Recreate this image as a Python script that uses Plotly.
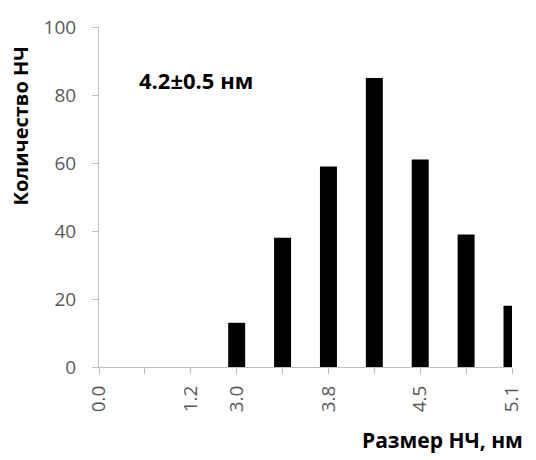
import plotly.graph_objects as go

positions = [0, 1, 2, 3, 4, 5, 6, 7, 8, 9]
tick_labels = ["0.0", "", "1.2", "3.0", "", "3.8", "", "4.5", "", "5.1"]
counts = [0, 0, 0, 13, 38, 59, 85, 61, 39, 18]

y_ticks = [0, 20, 40, 60, 80, 100]

FONT = "Open Sans"
GRAY = "#595959"
AXIS = "#bfbfbf"
CLEAR = "rgba(0,0,0,0)"

fig = go.Figure()
fig.add_trace(go.Bar(
    x=positions, y=counts, width=0.37,
    marker=dict(color="black", line=dict(width=0)),
    hoverinfo="x+y",
))
# empty helper trace so the tick-mark overlay axes are drawn
fig.add_trace(go.Scatter(x=[], y=[], xaxis="x2", yaxis="y2", hoverinfo="skip"))

fig.update_layout(
    width=536, height=460,
    margin=dict(l=99, r=19, t=27, b=93),
    paper_bgcolor="white", plot_bgcolor="white",
    showlegend=False,
    font=dict(family=FONT, color=GRAY, size=19),
    xaxis=dict(
        range=[0, 9], tickmode="array", tickvals=positions, ticktext=tick_labels,
        tickangle=-90, ticks="outside", ticklen=10, tickcolor=CLEAR, tickwidth=1,
        showline=True, linecolor=AXIS, linewidth=1, showgrid=False, zeroline=False,
        tickfont=dict(family=FONT, size=19, color=GRAY),
    ),
    yaxis=dict(
        range=[0, 100], tickmode="array", tickvals=y_ticks,
        ticks="outside", ticklen=18, tickcolor=CLEAR, tickwidth=1,
        showline=True, linecolor=AXIS, linewidth=1, showgrid=False, zeroline=False,
        tickfont=dict(family=FONT, size=19, color=GRAY),
    ),
    xaxis2=dict(
        overlaying="x", anchor="y2", side="bottom", range=[0, 9],
        tickmode="array", tickvals=positions, showticklabels=False,
        ticks="outside", ticklen=6, tickcolor=AXIS, tickwidth=1,
        showline=False, showgrid=False, zeroline=False,
    ),
    yaxis2=dict(
        overlaying="y", anchor="x2", side="left", range=[0, 100],
        tickmode="array", tickvals=y_ticks, showticklabels=False,
        ticks="outside", ticklen=6, tickcolor=AXIS, tickwidth=1,
        showline=False, showgrid=False, zeroline=False,
    ),
    annotations=[
        dict(text="<b>Количество НЧ</b>", textangle=-90, xref="paper", yref="paper",
             x=-0.189, y=0.71, xanchor="center", yanchor="middle", showarrow=False,
             font=dict(family=FONT, size=20, color="black")),
        dict(text="<b>Размер НЧ, нм</b>", xref="paper", yref="paper",
             x=1.031, y=-0.215, xanchor="right", yanchor="middle", showarrow=False,
             font=dict(family=FONT, size=21, color="black")),
        dict(text="<b>4.2±0.5 нм</b>", xref="paper", yref="paper",
             x=0.093, y=0.844, xanchor="left", yanchor="middle", showarrow=False,
             font=dict(family=FONT, size=22, color="black")),
    ],
)

fig.write_html("out.html")
